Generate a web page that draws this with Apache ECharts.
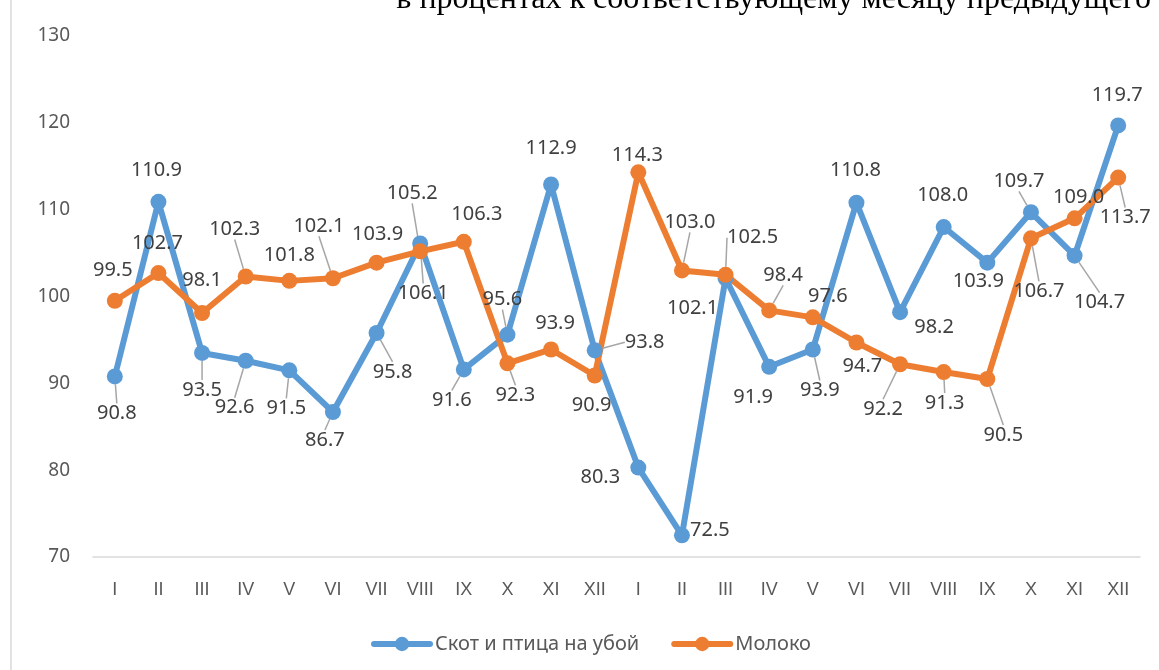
<!DOCTYPE html>
<html style="height: 100%">
<head>
    <meta charset="utf-8">
</head>
<body style="height: 100%; margin: 0; background: #fff">
<div id="container" style="width: 1159px; height: 670px"></div>
<script src="https://cdn.jsdelivr.net/npm/echarts@6/dist/echarts.min.js"></script>
<script>
    // месяцы двух лет подряд
    var months = ['I', 'II', 'III', 'IV', 'V', 'VI', 'VII', 'VIII', 'IX', 'X', 'XI', 'XII',
        'I', 'II', 'III', 'IV', 'V', 'VI', 'VII', 'VIII', 'IX', 'X', 'XI', 'XII'];
    var skot = [90.8, 110.9, 93.5, 92.6, 91.5, 86.7, 95.8, 106.1, 91.6, 95.6, 112.9, 93.8,
        80.3, 72.5, 102.1, 91.9, 93.9, 110.8, 98.2, 108.0, 103.9, 109.7, 104.7, 119.7];
    var moloko = [99.5, 102.7, 98.1, 102.3, 101.8, 102.1, 103.9, 105.2, 106.3, 92.3, 93.9, 90.9,
        114.3, 103.0, 102.5, 98.4, 97.6, 94.7, 92.2, 91.3, 90.5, 106.7, 109.0, 113.7];
    var yTicks = [70, 80, 90, 100, 110, 120, 130];

    // сдвиг подписей от точки [dx, dy] и выноска (1 - есть)
    var skotLabelShift = [[2, 37], [-2, -32], [0, 37], [-11, 47], [-3, 38], [-8, 28], [16, 39], [3, 50],
        [-12, 31], [-5, -35], [0, -36], [50, -8], [-38, 10], [28, -5], [-33, 30], [-16, 30],
        [7, 41], [-1, -32], [34, 15], [-1, -32], [-9, 19], [-12, -31], [25, 47], [-1, -30]];
    var skotLeader = [1, 0, 1, 1, 1, 1, 1, 1, 1, 1, 0, 1, 0, 0, 0, 0, 1, 0, 0, 0, 0, 1, 1, 0];
    var molokoLabelShift = [[-2, -31], [-1, -30], [0, -33], [-11, -47], [0, -26], [-14, -52], [1, -28], [-8, -58],
        [13, -27], [8, 32], [4, -26], [-3, 30], [-1, -17], [8, -48], [27, -37], [14, -35],
        [15, -21], [6, 24], [-17, 45], [1, 31], [16, 56], [8, 53], [4, -21], [7, 40]];
    var molokoLeader = [0, 0, 0, 1, 0, 1, 0, 1, 0, 1, 0, 0, 0, 1, 1, 1, 0, 0, 1, 1, 1, 1, 0, 1];

    var sans = '"Noto Sans", sans-serif';

    function makeData(values, leader) {
        return values.map(function (v, i) {
            return {value: v, labelLine: {show: !!leader[i]}};
        });
    }

    function shiftLayout(shifts) {
        return function (params) {
            var s = shifts[params.dataIndex];
            return {dx: s[0], dy: s[1]};
        };
    }

    var dom = document.getElementById("container");
    var myChart = echarts.init(dom);

    var labelStyle = {
        show: true,
        position: 'inside',
        formatter: function (p) { return p.value.toFixed(1); },
        fontFamily: sans,
        fontSize: 20,
        color: '#404040'
    };
    var leaderStyle = {show: true, lineStyle: {color: '#A6A6A6', width: 1.5}};

    var option = {
        animation: false,
        textStyle: {fontFamily: sans},
        grid: {left: 93, right: 19, top: 36, bottom: 113},
        graphic: [
            {
                type: 'line',
                shape: {x1: 11, y1: 0, x2: 11, y2: 670},
                style: {stroke: '#D9D9D9', lineWidth: 1.5}
            },
            {
                type: 'text',
                x: 1151,
                y: 16,
                style: {
                    text: 'в процентах к соответствующему месяцу предыдущего',
                    font: '32px "Liberation Serif"',
                    fill: '#000',
                    textAlign: 'right',
                    textVerticalAlign: 'bottom'
                }
            }
        ],
        legend: {
            bottom: 11,
            left: 366,
            itemWidth: 56,
            itemHeight: 18,
            itemGap: 32,
            lineStyle: {width: 6, cap: 'round'},
            textStyle: {fontFamily: sans, fontSize: 20, color: '#595959'},
            data: ['Скот и птица на убой', 'Молоко']
        },
        xAxis: {
            type: 'category',
            data: months,
            axisLine: {lineStyle: {color: '#D9D9D9', width: 1.5}},
            axisTick: {show: false},
            axisLabel: {fontFamily: '"Liberation Sans", Arial, sans-serif', fontSize: 18, color: '#595959', margin: 24}
        },
        yAxis: {
            type: 'value',
            min: yTicks[0],
            max: yTicks[yTicks.length - 1],
            interval: 10,
            splitLine: {show: false},
            axisLine: {show: false},
            axisTick: {show: false},
            axisLabel: {fontFamily: sans, fontSize: 19, color: '#595959', margin: 23}
        },
        series: [
            {
                name: 'Скот и птица на убой',
                type: 'line',
                data: makeData(skot, skotLeader),
                color: '#5B9BD5',
                symbol: 'circle',
                symbolSize: 16,
                lineStyle: {width: 6, color: '#5B9BD5'},
                label: labelStyle,
                labelLine: leaderStyle,
                labelLayout: shiftLayout(skotLabelShift)
            },
            {
                name: 'Молоко',
                type: 'line',
                data: makeData(moloko, molokoLeader),
                color: '#ED7D31',
                symbol: 'circle',
                symbolSize: 16,
                lineStyle: {width: 6, color: '#ED7D31'},
                label: labelStyle,
                labelLine: leaderStyle,
                labelLayout: shiftLayout(molokoLabelShift)
            }
        ]
    };
    myChart.setOption(option, true);
</script>
</body>
</html>
